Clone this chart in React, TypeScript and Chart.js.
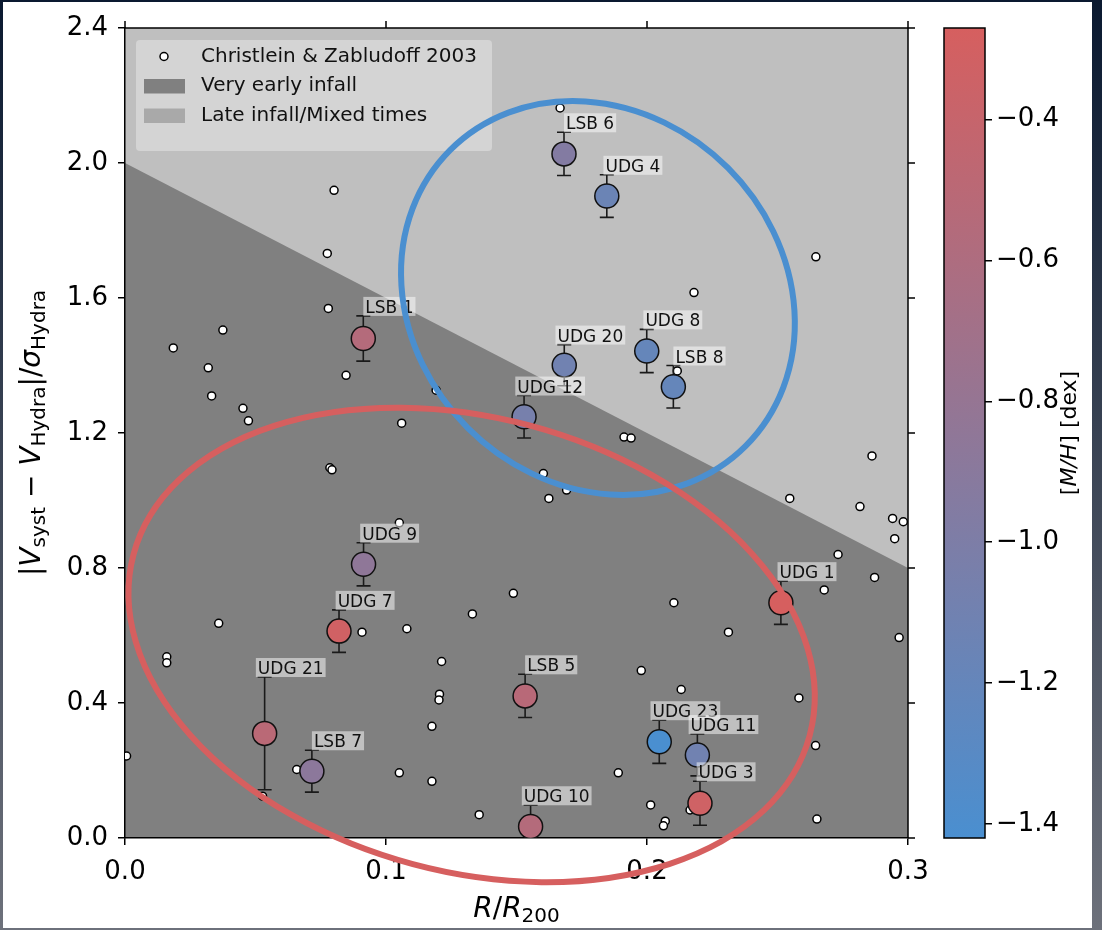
import React, { useEffect, useRef } from "react";
import { Chart, registerables } from "chart.js";

Chart.register(...registerables);

const FONT = "'DejaVu Sans', sans-serif";

// Christlein & Zabludoff (2003) Hydra members: R/R200 and |V - V_Hydra|/sigma
const CZ_R = [
  0.0801, 0.0775, 0.0779, 0.0375, 0.0185, 0.0319, 0.0332, 0.0452, 0.0473, 0.0847,
  0.106, 0.1192, 0.0785, 0.0793, 0.1051, 0.1488, 0.1331, 0.0908, 0.108, 0.0359,
  0.016, 0.016, 0.1213, 0.1205, 0.1203, 0.1176, 0.0006, 0.0658, 0.0527, 0.1051,
  0.1176, 0.1357, 0.1603, 0.1692, 0.1624, 0.2547, 0.2816, 0.2941, 0.2982, 0.2949,
  0.2732, 0.2872, 0.2679, 0.2103, 0.2312, 0.2966, 0.1978, 0.2131, 0.2582, 0.2646,
  0.189, 0.2014, 0.207, 0.2063, 0.2165, 0.2651, 0.2647, 0.218, 0.2116, 0.2862,
  0.1912, 0.1939, 0.1667,
];
const CZ_V = [
  1.919, 1.732, 1.569, 1.505, 1.452, 1.393, 1.31, 1.273, 1.236, 1.371,
  1.229, 1.327, 1.097, 1.091, 0.934, 0.725, 0.664, 0.61, 0.62, 0.636,
  0.537, 0.519, 0.523, 0.426, 0.409, 0.331, 0.243, 0.203, 0.124, 0.193,
  0.168, 0.069, 1.08, 1.031, 1.006, 1.006, 0.982, 0.947, 0.937, 0.887,
  0.84, 0.772, 0.735, 0.697, 0.61, 0.594, 0.496, 0.44, 0.415, 0.274,
  0.193, 0.098, 0.05, 0.036, 0.083, 0.056, 1.722, 1.616, 1.384, 1.132,
  1.188, 1.185, 2.163,
];

// LSB / UDG sample
const GAL_NAMES = [
  "LSB 6", "UDG 4", "UDG 20", "UDG 8", "LSB 8", "UDG 12", "LSB 1", "UDG 9", "UDG 7",
  "UDG 21", "LSB 7", "UDG 1", "LSB 5", "UDG 23", "UDG 11", "UDG 3", "UDG 10",
];
const GAL_R = [
  0.1682, 0.1846, 0.1683, 0.1999, 0.2101, 0.1529, 0.0913, 0.0914, 0.082,
  0.0535, 0.0716, 0.2513, 0.1533, 0.2047, 0.2193, 0.2203, 0.1554,
];
const GAL_V = [
  2.027, 1.902, 1.401, 1.443, 1.337, 1.248, 1.48, 0.811, 0.613,
  0.31, 0.198, 0.697, 0.421, 0.285, 0.246, 0.103, 0.034,
];
const GAL_ERR = [
  0.064, 0.063, 0.061, 0.064, 0.063, 0.063, 0.067, 0.064, 0.063,
  0.167, 0.062, 0.064, 0.064, 0.064, 0.062, 0.065, 0.063,
];
const GAL_MH = [
  -0.95, -1.15, -1.1, -1.2, -1.2, -1.05, -0.55, -0.85, -0.32,
  -0.5, -0.88, -0.27, -0.52, -1.42, -1.1, -0.33, -0.55,
];

const X_TICKS = [0, 0.1, 0.2, 0.3];
const Y_TICKS = [0, 0.4, 0.8, 1.2, 1.6, 2.0, 2.4];
const CBAR_TICKS = [-1.4, -1.2, -1.0, -0.8, -0.6, -0.4];
const MH_RANGE = [-1.42, -0.27];

// boundary between the two infall regions
const BOUNDARY_R = [0, 0.3];
const BOUNDARY_V = [2.0, 0.8];

const LOW_RGB = [74, 143, 208];
const HIGH_RGB = [214, 95, 95];
const LOW_HEX = "#4a8fd0";
const HIGH_HEX = "#d65f5f";

// highlighted groups (centre, half-extents in axis units, tilt in degrees)
const GROUPS = [
  { r: 0.1812, v: 1.6, halfR: 0.0801, halfV: 0.545, tilt: 45, color: LOW_HEX },
  { r: 0.1328, v: 0.572, halfR: 0.1341, halfV: 0.6726, tilt: 15, color: HIGH_HEX },
];

const LABEL_DR = 0.01;

function mhColor(v: number) {
  const t = Math.min(1, Math.max(0, (v - MH_RANGE[0]) / (MH_RANGE[1] - MH_RANGE[0])));
  const c = LOW_RGB.map((a, i) => Math.round(a + (HIGH_RGB[i] - a) * t));
  return `rgb(${c.join(",")})`;
}

type Seg = { t: string; size: number; italic?: boolean; dy?: number };

function drawRich(ctx: CanvasRenderingContext2D, segs: Seg[], x: number, y: number, rot: number) {
  ctx.save();
  ctx.translate(x, y);
  ctx.rotate(rot);
  const fontOf = (s: Seg) => `${s.italic ? "italic " : ""}${s.size}px ${FONT}`;
  let total = 0;
  const widths = segs.map((s) => {
    ctx.font = fontOf(s);
    const w = ctx.measureText(s.t).width;
    total += w;
    return w;
  });
  let cx = -total / 2;
  ctx.textBaseline = "alphabetic";
  ctx.textAlign = "left";
  ctx.fillStyle = "#000";
  segs.forEach((s, i) => {
    ctx.font = fontOf(s);
    ctx.fillText(s.t, cx, s.dy || 0);
    cx += widths[i];
  });
  ctx.restore();
}

const regionPlugin = {
  id: "infallRegions",
  beforeDraw(chart: any) {
    const { ctx, chartArea: a, scales } = chart;
    const { x, y } = scales;
    ctx.save();
    ctx.fillStyle = "#bfbfbf";
    ctx.fillRect(a.left, a.top, a.width, a.height);
    ctx.beginPath();
    ctx.rect(a.left, a.top, a.width, a.height);
    ctx.clip();
    ctx.beginPath();
    ctx.moveTo(x.getPixelForValue(BOUNDARY_R[0]), y.getPixelForValue(0));
    BOUNDARY_R.forEach((r, i) => ctx.lineTo(x.getPixelForValue(r), y.getPixelForValue(BOUNDARY_V[i])));
    ctx.lineTo(x.getPixelForValue(BOUNDARY_R[BOUNDARY_R.length - 1]), y.getPixelForValue(0));
    ctx.closePath();
    ctx.fillStyle = "#808080";
    ctx.fill();
    ctx.restore();
  },
};

const errorBarPlugin = {
  id: "errorBars",
  beforeDatasetDraw(chart: any, args: any) {
    if (args.index !== 0) return;
    const { ctx, chartArea: a, scales } = chart;
    const { x, y } = scales;
    ctx.save();
    ctx.beginPath();
    ctx.rect(a.left, a.top, a.width, a.height);
    ctx.clip();
    ctx.strokeStyle = "#1a1a1a";
    ctx.lineWidth = 1.6;
    GAL_R.forEach((r, i) => {
      const px = x.getPixelForValue(r);
      const top = y.getPixelForValue(GAL_V[i] + GAL_ERR[i]);
      const bot = y.getPixelForValue(GAL_V[i] - GAL_ERR[i]);
      ctx.beginPath();
      ctx.moveTo(px, top);
      ctx.lineTo(px, bot);
      ctx.moveTo(px - 7, top);
      ctx.lineTo(px + 7, top);
      ctx.moveTo(px - 7, bot);
      ctx.lineTo(px + 7, bot);
      ctx.stroke();
    });
    ctx.restore();
  },
};

const labelLegendPlugin = {
  id: "labelsAndLegend",
  afterDatasetsDraw(chart: any) {
    const { ctx, chartArea: a, scales } = chart;
    const { x, y } = scales;
    ctx.save();
    // galaxy name tags
    ctx.font = `17px ${FONT}`;
    ctx.textAlign = "left";
    ctx.textBaseline = "alphabetic";
    GAL_NAMES.forEach((name, i) => {
      const cx = x.getPixelForValue(GAL_R[i] + LABEL_DR);
      const bottom = y.getPixelForValue(GAL_V[i] + GAL_ERR[i]);
      const w = ctx.measureText(name).width;
      ctx.fillStyle = "rgba(255,255,255,0.5)";
      ctx.fillRect(cx - w / 2 - 2, bottom - 19, w + 4, 19);
      ctx.fillStyle = "#111";
      ctx.fillText(name, cx - w / 2, bottom - 3);
    });

    // legend
    const lx = a.left + 11;
    const ly = a.top + 12;
    ctx.fillStyle = "#d4d4d4";
    ctx.beginPath();
    ctx.roundRect(lx, ly, 356, 111, 4);
    ctx.fill();
    const rows = [ly + 16.5, ly + 46, ly + 75.5];
    ctx.beginPath();
    ctx.arc(lx + 28, rows[0], 4, 0, Math.PI * 2);
    ctx.fillStyle = "#fff";
    ctx.fill();
    ctx.lineWidth = 1.5;
    ctx.strokeStyle = "#000";
    ctx.stroke();
    ctx.fillStyle = "#808080";
    ctx.fillRect(lx + 8, rows[1] - 7, 41, 14.5);
    ctx.fillStyle = "#a9a9a9";
    ctx.fillRect(lx + 8, rows[2] - 7, 41, 14.5);
    ctx.fillStyle = "#111";
    ctx.font = `20px ${FONT}`;
    ctx.textBaseline = "middle";
    ctx.fillText("Christlein & Zabludoff 2003", lx + 65, rows[0]);
    ctx.fillText("Very early infall", lx + 65, rows[1]);
    ctx.fillText("Late infall/Mixed times", lx + 65, rows[2]);
    ctx.restore();
  },
};

const framePlugin = {
  id: "frameAndTitles",
  afterDraw(chart: any) {
    const { ctx, chartArea: a, scales } = chart;
    const { x, y } = scales;
    ctx.save();
    ctx.strokeStyle = "#000";
    ctx.lineWidth = 1.5;
    ctx.beginPath();
    ctx.moveTo(a.left, a.top);
    ctx.lineTo(a.right, a.top);
    ctx.lineTo(a.right, a.bottom);
    X_TICKS.forEach((v) => {
      const px = x.getPixelForValue(v);
      ctx.moveTo(px, a.top);
      ctx.lineTo(px, a.top - 7);
    });
    Y_TICKS.forEach((v) => {
      const py = y.getPixelForValue(v);
      ctx.moveTo(a.right, py);
      ctx.lineTo(a.right + 7, py);
    });
    ctx.stroke();

    GROUPS.forEach((g) => {
      const cx = x.getPixelForValue(g.r);
      const cy = y.getPixelForValue(g.v);
      const ax = Math.abs(x.getPixelForValue(g.r + g.halfR) - cx);
      const ay = Math.abs(y.getPixelForValue(g.v + g.halfV) - cy);
      ctx.strokeStyle = g.color;
      ctx.lineWidth = 6;
      ctx.beginPath();
      ctx.ellipse(cx, cy, ax, ay, (g.tilt * Math.PI) / 180, 0, Math.PI * 2);
      ctx.stroke();
    });
    ctx.restore();

    const midX = (a.left + a.right) / 2;
    const midY = (a.top + a.bottom) / 2;
    drawRich(
      ctx,
      [
        { t: "R", size: 28, italic: true },
        { t: "/", size: 28 },
        { t: "R", size: 28, italic: true },
        { t: "200", size: 20, dy: 5 },
      ],
      midX,
      a.bottom + 79,
      0
    );
    drawRich(
      ctx,
      [
        { t: "|", size: 28 },
        { t: "V", size: 28, italic: true },
        { t: "syst", size: 20, dy: 5 },
        { t: " − ", size: 28 },
        { t: "V", size: 28, italic: true },
        { t: "Hydra", size: 20, dy: 5 },
        { t: "|/", size: 28 },
        { t: "σ", size: 28, italic: true },
        { t: "Hydra", size: 20, dy: 5 },
      ],
      40,
      midY,
      -Math.PI / 2
    );
  },
};

const colorbarPlugin = {
  id: "colorbar",
  beforeDraw(chart: any) {
    const { ctx, chartArea: a } = chart;
    const g = ctx.createLinearGradient(0, a.bottom, 0, a.top);
    g.addColorStop(0, LOW_HEX);
    g.addColorStop(1, HIGH_HEX);
    ctx.save();
    ctx.fillStyle = g;
    ctx.fillRect(a.left, a.top, a.width, a.height);
    ctx.restore();
  },
  afterDraw(chart: any) {
    const { ctx, chartArea: a } = chart;
    ctx.save();
    ctx.strokeStyle = "#000";
    ctx.lineWidth = 1.5;
    ctx.strokeRect(a.left, a.top, a.width, a.height);
    ctx.restore();
    drawRich(
      ctx,
      [
        { t: "[", size: 22 },
        { t: "M/H", size: 22, italic: true },
        { t: "] [dex]", size: 22 },
      ],
      a.right + 91,
      (a.top + a.bottom) / 2,
      -Math.PI / 2
    );
  },
};

const fmt = (v: number) => (v < 0 ? "−" : "") + Math.abs(v).toFixed(1);

export default function App() {
  const mainRef = useRef<HTMLCanvasElement>(null);
  const cbarRef = useRef<HTMLCanvasElement>(null);

  useEffect(() => {
    const tickFont = { family: FONT, size: 26 };
    const main = new Chart(mainRef.current!, {
      type: "scatter",
      data: {
        datasets: [
          {
            label: "LSB/UDG",
            data: GAL_R.map((r, i) => ({ x: r, y: GAL_V[i] })),
            pointRadius: 12,
            pointBackgroundColor: GAL_MH.map(mhColor),
            pointBorderColor: "#111",
            pointBorderWidth: 1.5,
            order: 0,
          },
          {
            label: "Christlein & Zabludoff 2003",
            data: CZ_R.map((r, i) => ({ x: r, y: CZ_V[i] })),
            pointRadius: 4,
            pointBackgroundColor: "#fff",
            pointBorderColor: "#000",
            pointBorderWidth: 1.5,
            order: 1,
          },
        ],
      },
      options: {
        animation: false,
        responsive: false,
        devicePixelRatio: 1,
        events: [],
        layout: { padding: { left: 0, top: 28, right: 194, bottom: 0 } },
        plugins: { legend: { display: false }, tooltip: { enabled: false } },
        scales: {
          x: {
            type: "linear",
            min: 0,
            max: 0.3,
            afterBuildTicks: (s: any) => {
              s.ticks = X_TICKS.map((v) => ({ value: v }));
            },
            afterFit: (s: any) => {
              s.height = 92;
            },
            ticks: { callback: (v: any) => fmt(Number(v)), font: tickFont, color: "#000", padding: 12, maxRotation: 0 },
            grid: { drawOnChartArea: false, color: "#000", lineWidth: 1.5, tickLength: 7, tickWidth: 1.5 },
            border: { display: true, color: "#000", width: 1.5 },
          },
          y: {
            type: "linear",
            min: 0,
            max: 2.4,
            afterBuildTicks: (s: any) => {
              s.ticks = Y_TICKS.map((v) => ({ value: v }));
            },
            afterFit: (s: any) => {
              s.width = 125;
            },
            ticks: { callback: (v: any) => fmt(Number(v)), font: tickFont, color: "#000", padding: 10 },
            grid: { drawOnChartArea: false, color: "#000", lineWidth: 1.5, tickLength: 7, tickWidth: 1.5 },
            border: { display: true, color: "#000", width: 1.5 },
          },
        },
      },
      plugins: [regionPlugin, errorBarPlugin, labelLegendPlugin, framePlugin],
    } as any);

    const cbar = new Chart(cbarRef.current!, {
      type: "scatter",
      data: { datasets: [] },
      options: {
        animation: false,
        responsive: false,
        devicePixelRatio: 1,
        events: [],
        layout: { padding: { left: 14, top: 28, right: 0, bottom: 92 } },
        plugins: { legend: { display: false }, tooltip: { enabled: false } },
        scales: {
          x: { type: "linear", display: false, min: 0, max: 1 },
          y: {
            type: "linear",
            position: "right",
            min: MH_RANGE[0],
            max: MH_RANGE[1],
            afterBuildTicks: (s: any) => {
              s.ticks = CBAR_TICKS.map((v) => ({ value: v }));
            },
            afterFit: (s: any) => {
              s.width = 117;
            },
            ticks: { callback: (v: any) => fmt(Number(v)), font: tickFont, color: "#000", padding: 4 },
            grid: { drawOnChartArea: false, color: "#000", lineWidth: 1.5, tickLength: 7, tickWidth: 1.5 },
            border: { display: false },
          },
        },
      },
      plugins: [colorbarPlugin],
    } as any);

    return () => {
      main.destroy();
      cbar.destroy();
    };
  }, []);

  return (
    <div
      style={{
        position: "fixed",
        left: 0,
        top: 0,
        width: 1102,
        height: 930,
        background: "linear-gradient(#0a1930, #6d717b)",
      }}
    >
      <div style={{ position: "absolute", left: 3, top: 2, width: 1089, height: 926, background: "#fff" }} />
      <canvas
        ref={mainRef}
        width={1102}
        height={930}
        style={{ position: "absolute", left: 0, top: 0, width: 1102, height: 930 }}
      />
      <canvas
        ref={cbarRef}
        width={172}
        height={930}
        style={{ position: "absolute", left: 930, top: 0, width: 172, height: 930 }}
      />
    </div>
  );
}
